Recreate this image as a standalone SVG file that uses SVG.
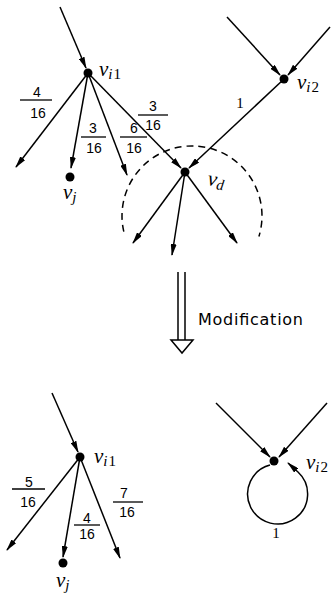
<svg xmlns="http://www.w3.org/2000/svg" width="331" height="597" viewBox="0 0 331 597">
<defs>
<marker id="ah" markerWidth="12" markerHeight="6" refX="11" refY="3" orient="auto" markerUnits="userSpaceOnUse">
<path d="M0,0 L12,3 L0,6 z" fill="#000"/>
</marker>
<style>
.e{stroke:#000;stroke-width:1.5;fill:none;marker-end:url(#ah)}
.dot{fill:#000}
.v{font-family:"Liberation Serif","DejaVu Serif",serif;font-style:italic;font-size:21px;fill:#000}
.s{font-size:15px}
.su{font-style:normal}
.fr{font-family:"Liberation Sans","DejaVu Sans",sans-serif;font-size:14px;fill:#000;text-anchor:middle}
.fl{stroke:#000;stroke-width:1.3}
.one{font-family:"Liberation Serif",serif;font-size:15px;fill:#000;text-anchor:middle}
</style>
</defs>
<rect width="331" height="597" fill="#fff"/>

<g id="connectors">
<!-- top -->
<line class="e" x1="60" y1="7" x2="86" y2="68"/>
<line class="e" x1="88" y1="73" x2="16" y2="167"/>
<line class="e" x1="88" y1="73" x2="71" y2="168"/>
<line class="e" x1="88" y1="73" x2="127" y2="175"/>
<line class="e" x1="88" y1="73" x2="181" y2="168"/>
<line class="e" x1="227" y1="17" x2="280" y2="75"/>
<line class="e" x1="330" y1="27" x2="288" y2="75"/>
<line class="e" x1="284" y1="79" x2="189" y2="168"/>
<line class="e" x1="185" y1="172" x2="133" y2="243"/>
<line class="e" x1="185" y1="172" x2="172" y2="255"/>
<line class="e" x1="185" y1="172" x2="237" y2="243"/>
<path d="M123.8,231.7 A70,70 0 1 1 258.9,236.5" fill="none" stroke="#000" stroke-width="1.5" stroke-dasharray="7,5"/>
<!-- modification arrow -->
<line x1="178" y1="272" x2="178" y2="340" stroke="#000" stroke-width="1.5"/>
<line x1="185" y1="272" x2="185" y2="340" stroke="#000" stroke-width="1.5"/>
<path d="M171,340 L193,340 L182,353 z" fill="#fff" stroke="#000" stroke-width="1.5"/>
<!-- bottom -->
<line class="e" x1="52" y1="393" x2="78" y2="452"/>
<line class="e" x1="80" y1="457" x2="7" y2="550"/>
<line class="e" x1="80" y1="457" x2="63" y2="557"/>
<line class="e" x1="80" y1="457" x2="120" y2="558"/>
<line class="e" x1="216" y1="403" x2="270" y2="457"/>
<line class="e" x1="327" y1="403" x2="279" y2="457"/>
<path class="e" d="M270,465 A30,30 0 1 0 298,472 L288,463"/>
</g>

<g id="edge-labels">
<text class="fr" x="37" y="97">4</text><line class="fl" x1="20" y1="100" x2="52" y2="100"/><text class="fr" x="38" y="118">16</text>
<text class="fr" x="93" y="133">3</text><line class="fl" x1="81" y1="137" x2="106" y2="137"/><text class="fr" x="94" y="153">16</text>
<text class="fr" x="134" y="133">6</text><line class="fl" x1="120" y1="137" x2="147" y2="137"/><text class="fr" x="134" y="153">16</text>
<text class="fr" x="153" y="111">3</text><line class="fl" x1="138" y1="115" x2="168" y2="115"/><text class="fr" x="153" y="130">16</text>
<text class="one" x="240" y="108" fill="#000">1</text>
<text x="198" y="325" font-family="DejaVu Sans,Liberation Sans,sans-serif" font-size="16" fill="#000" textLength="105" lengthAdjust="spacing">Modification</text>
<text class="fr" x="29" y="487">5</text><line class="fl" x1="12" y1="489" x2="45" y2="489"/><text class="fr" x="28" y="507">16</text>
<text class="fr" x="87" y="523">4</text><line class="fl" x1="74" y1="525" x2="100" y2="525"/><text class="fr" x="87" y="539">16</text>
<text class="fr" x="124" y="498">7</text><line class="fl" x1="113" y1="502" x2="143" y2="502"/><text class="fr" x="127" y="517">16</text>
<text class="one" x="276" y="538" fill="#000">1</text>
</g>

<g id="vi1-top"><circle class="dot" cx="88" cy="73" r="4.5"/><text class="v" x="99" y="76">v<tspan class="s" dy="3">i</tspan><tspan class="s su" dx="1">1</tspan></text></g>
<g id="vj-top"><circle class="dot" cx="70" cy="177" r="4.5"/><text class="v" x="63" y="199">v<tspan class="s" dy="3">j</tspan></text></g>
<g id="vi2-top"><circle class="dot" cx="284" cy="79" r="4.5"/><text class="v" x="297" y="89">v<tspan class="s" dy="3">i</tspan><tspan class="s su" dx="1">2</tspan></text></g>
<g id="vd"><circle class="dot" cx="185" cy="172" r="4.5"/><text class="v" x="207" y="185" transform="rotate(8 207 185)">v<tspan class="s" dy="3">d</tspan></text></g>
<g id="vi1-bot"><circle class="dot" cx="80" cy="457" r="4.5"/><text class="v" x="94" y="463">v<tspan class="s" dy="3">i</tspan><tspan class="s su" dx="1">1</tspan></text></g>
<g id="vj-bot"><circle class="dot" cx="63" cy="563" r="4.5"/><text class="v" x="56" y="587">v<tspan class="s" dy="3">j</tspan></text></g>
<g id="vi2-bot"><circle class="dot" cx="274" cy="461" r="4.5"/><text class="v" x="306" y="469">v<tspan class="s" dy="3">i</tspan><tspan class="s su" dx="1">2</tspan></text></g>
</svg>
